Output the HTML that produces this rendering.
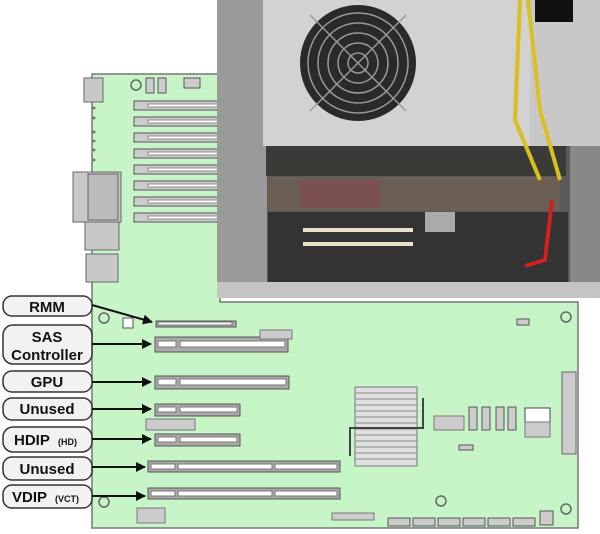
<!DOCTYPE html>
<html><head><style>
html,body{margin:0;padding:0;background:#fff;width:600px;height:534px;overflow:hidden}
svg{display:block}
text{font-family:"Liberation Sans",Arial,sans-serif;font-weight:bold;fill:#111}
</style></head><body>
<svg width="600" height="534" viewBox="0 0 600 534" xmlns="http://www.w3.org/2000/svg">
<defs>
<marker id="ah" markerWidth="10" markerHeight="10" refX="9" refY="5" orient="auto" markerUnits="userSpaceOnUse">
<path d="M0,0 L10,5 L0,10 Z" fill="#111"/></marker>
</defs>
<!-- motherboard -->
<path d="M92,74 L220,74 L220,302 L578,302 L578,528 L92,528 Z" fill="#c8f5c8" stroke="#777" stroke-width="1.5"/>
<!-- left IO -->
<rect x="84" y="78" width="19" height="24" fill="#c8c8c8" stroke="#666"/>
<rect x="73" y="172" width="48" height="50" fill="#c8c8c8" stroke="#666"/>
<rect x="88" y="174" width="30" height="46" fill="#bbb" stroke="#666"/>
<rect x="85" y="222" width="34" height="28" fill="#c8c8c8" stroke="#666"/>
<rect x="86" y="254" width="32" height="28" fill="#c8c8c8" stroke="#666"/>
<g fill="#777"><circle cx="94" cy="108" r="1.5"/><circle cx="94" cy="118" r="1.5"/><circle cx="94" cy="132" r="1.5"/><circle cx="94" cy="141" r="1.5"/><circle cx="94" cy="150" r="1.5"/><circle cx="94" cy="160" r="1.5"/></g>
<circle cx="136" cy="85" r="5" fill="none" stroke="#666" stroke-width="1.5"/>
<rect x="146" y="78" width="8" height="15" fill="#ccc" stroke="#555"/>
<rect x="158" y="78" width="8" height="15" fill="#ccc" stroke="#555"/>
<rect x="184" y="78" width="16" height="10" fill="#ccc" stroke="#555"/>
<!-- memory slots -->
<g stroke="#555" fill="#ccc">
<rect x="134" y="101" width="86" height="9"/><rect x="134" y="117" width="86" height="9"/>
<rect x="134" y="133" width="86" height="9"/><rect x="134" y="149" width="86" height="9"/>
<rect x="134" y="165" width="86" height="9"/><rect x="134" y="181" width="86" height="9"/>
<rect x="134" y="197" width="86" height="9"/><rect x="134" y="213" width="86" height="9"/>
</g>
<g fill="#fff" stroke="#888"><rect x="148" y="104" width="72" height="3"/><rect x="148" y="120" width="72" height="3"/><rect x="148" y="136" width="72" height="3"/><rect x="148" y="152" width="72" height="3"/><rect x="148" y="168" width="72" height="3"/><rect x="148" y="184" width="72" height="3"/><rect x="148" y="200" width="72" height="3"/><rect x="148" y="216" width="72" height="3"/></g>
<!-- PCI slots -->
<g stroke="#555" fill="#aaa">
<rect x="156" y="321" width="80" height="6"/>
<rect x="155" y="337" width="133" height="15"/>
<rect x="155" y="376" width="134" height="13"/>
<rect x="155" y="404" width="85" height="12"/>
<rect x="155" y="434" width="85" height="12"/>
<rect x="148" y="461" width="192" height="11"/>
<rect x="148" y="488" width="192" height="11"/>
</g>
<g fill="#fff" stroke="#777">
<rect x="158" y="322" width="74" height="3"/>
<rect x="158" y="341" width="18" height="6"/><rect x="180" y="341" width="105" height="6"/>
<rect x="158" y="379" width="18" height="6"/><rect x="180" y="379" width="106" height="6"/>
<rect x="158" y="407" width="18" height="5"/><rect x="180" y="407" width="57" height="5"/>
<rect x="158" y="437" width="18" height="5"/><rect x="180" y="437" width="57" height="5"/>
<rect x="151" y="464" width="24" height="5"/><rect x="178" y="464" width="94" height="5"/><rect x="275" y="464" width="62" height="5"/>
<rect x="151" y="491" width="24" height="5"/><rect x="178" y="491" width="94" height="5"/><rect x="275" y="491" width="62" height="5"/>
</g>
<rect x="260" y="330" width="32" height="9" fill="#ccc" stroke="#777"/>
<rect x="146" y="419" width="49" height="11" fill="#ccc" stroke="#777"/>
<rect x="137" y="508" width="28" height="15" fill="#ccc" stroke="#777"/>
<rect x="332" y="513" width="42" height="7" fill="#ccc" stroke="#777"/>
<circle cx="104" cy="318" r="5" fill="none" stroke="#666" stroke-width="1.5"/>
<circle cx="104" cy="502" r="5" fill="none" stroke="#666" stroke-width="1.5"/>
<circle cx="441" cy="501" r="5" fill="none" stroke="#666" stroke-width="1.5"/>
<circle cx="566" cy="317" r="5" fill="none" stroke="#666" stroke-width="1.5"/>
<circle cx="566" cy="509" r="5" fill="none" stroke="#666" stroke-width="1.5"/>
<rect x="123" y="318" width="10" height="10" fill="#fff" stroke="#555"/>
<!-- heatsink -->
<rect x="355" y="387" width="62" height="79" fill="#e0e0e0" stroke="#777"/>
<g stroke="#888"><line x1="355" y1="393" x2="417" y2="393"/><line x1="355" y1="399" x2="417" y2="399"/><line x1="355" y1="405" x2="417" y2="405"/><line x1="355" y1="411" x2="417" y2="411"/><line x1="355" y1="417" x2="417" y2="417"/><line x1="355" y1="423" x2="417" y2="423"/><line x1="355" y1="429" x2="417" y2="429"/><line x1="355" y1="435" x2="417" y2="435"/><line x1="355" y1="441" x2="417" y2="441"/><line x1="355" y1="447" x2="417" y2="447"/><line x1="355" y1="453" x2="417" y2="453"/><line x1="355" y1="459" x2="417" y2="459"/></g>
<path d="M350,456 L350,428 L423,428 L423,398" fill="none" stroke="#444" stroke-width="2"/>
<rect x="434" y="416" width="30" height="14" fill="#ccc" stroke="#777"/>
<g fill="#ccc" stroke="#555"><rect x="469" y="407" width="8" height="23"/><rect x="482" y="407" width="8" height="23"/><rect x="496" y="407" width="8" height="23"/><rect x="508" y="407" width="8" height="23"/></g>
<rect x="525" y="408" width="25" height="14" fill="#fff" stroke="#444"/>
<rect x="525" y="422" width="25" height="15" fill="#ccc" stroke="#777"/>
<rect x="562" y="372" width="14" height="82" fill="#ccc" stroke="#666"/>
<rect x="459" y="445" width="14" height="5" fill="#ccc" stroke="#555"/>
<rect x="517" y="319" width="12" height="6" fill="#ccc" stroke="#555"/>
<g fill="#ccc" stroke="#555"><rect x="388" y="518" width="22" height="8"/><rect x="413" y="518" width="22" height="8"/><rect x="438" y="518" width="22" height="8"/><rect x="463" y="518" width="22" height="8"/><rect x="488" y="518" width="22" height="8"/><rect x="513" y="518" width="22" height="8"/></g>
<rect x="540" y="511" width="13" height="14" fill="#ccc" stroke="#555"/>
<!-- photo -->
<rect x="217" y="0" width="383" height="298" fill="#5a5a5a"/>
<rect x="217" y="0" width="50" height="298" fill="#9a9a9a"/>
<rect x="263" y="0" width="270" height="146" fill="#d2d2d2"/>
<rect x="530" y="0" width="70" height="146" fill="#c8c8c8"/>
<rect x="535" y="0" width="38" height="22" fill="#111"/>
<circle cx="358" cy="63" r="58" fill="#2a2a2a"/>
<g fill="none" stroke="#999" stroke-width="1.5"><circle cx="358" cy="63" r="50"/><circle cx="358" cy="63" r="40"/><circle cx="358" cy="63" r="30"/><circle cx="358" cy="63" r="20"/><circle cx="358" cy="63" r="10"/><line x1="310" y1="15" x2="406" y2="111"/><line x1="406" y1="15" x2="310" y2="111"/></g>
<rect x="266" y="146" width="300" height="30" fill="#3a3a36"/>
<rect x="268" y="177" width="292" height="34" fill="#6a5e55"/>
<rect x="300" y="180" width="80" height="28" fill="#7a5050"/>
<rect x="268" y="212" width="300" height="70" fill="#333"/>
<rect x="425" y="212" width="30" height="20" fill="#aaa"/>
<rect x="303" y="228" width="110" height="4" fill="#e8e0c8"/>
<rect x="303" y="242" width="110" height="4" fill="#e8e0c8"/>
<path d="M552,200 L545,260 L525,266" fill="none" stroke="#d02020" stroke-width="4"/>
<path d="M520,0 L515,120 L540,180 M528,0 L540,110 L560,180" fill="none" stroke="#d8c020" stroke-width="4"/>
<rect x="217" y="282" width="383" height="16" fill="#c4c4c4"/>
<rect x="570" y="146" width="30" height="136" fill="#888"/>
<!-- labels -->
<g fill="#f2f2f2" stroke="#333" stroke-width="1.5">
<rect x="3" y="296" width="89" height="20" rx="9"/>
<rect x="3" y="325" width="89" height="39" rx="10"/>
<rect x="3" y="371" width="89" height="21" rx="9"/>
<rect x="3" y="398" width="89" height="22" rx="9"/>
<rect x="3" y="427" width="89" height="25" rx="10"/>
<rect x="3" y="457" width="89" height="23" rx="9"/>
<rect x="3" y="485" width="89" height="23" rx="9"/>
</g>
<g font-size="15" text-anchor="middle">
<text x="47" y="312">RMM</text>
<text x="47" y="342">SAS</text>
<text x="47" y="360">Controller</text>
<text x="47" y="387">GPU</text>
<text x="47" y="414">Unused</text>
<text x="47" y="474">Unused</text>
</g>
<text x="14" y="445" font-size="15">HDIP</text><text x="58" y="445" font-size="9">(HD)</text>
<text x="12" y="502" font-size="15">VDIP</text><text x="55" y="502" font-size="9">(VCT)</text>
<g stroke="#111" stroke-width="2" marker-end="url(#ah)">
<line x1="92" y1="305" x2="152" y2="322"/>
<line x1="92" y1="344" x2="151" y2="344"/>
<line x1="92" y1="382" x2="151" y2="382"/>
<line x1="92" y1="409" x2="151" y2="409"/>
<line x1="92" y1="439" x2="151" y2="439"/>
<line x1="92" y1="467" x2="145" y2="467"/>
<line x1="92" y1="496" x2="145" y2="496"/>
</g>
</svg>
</body></html>
